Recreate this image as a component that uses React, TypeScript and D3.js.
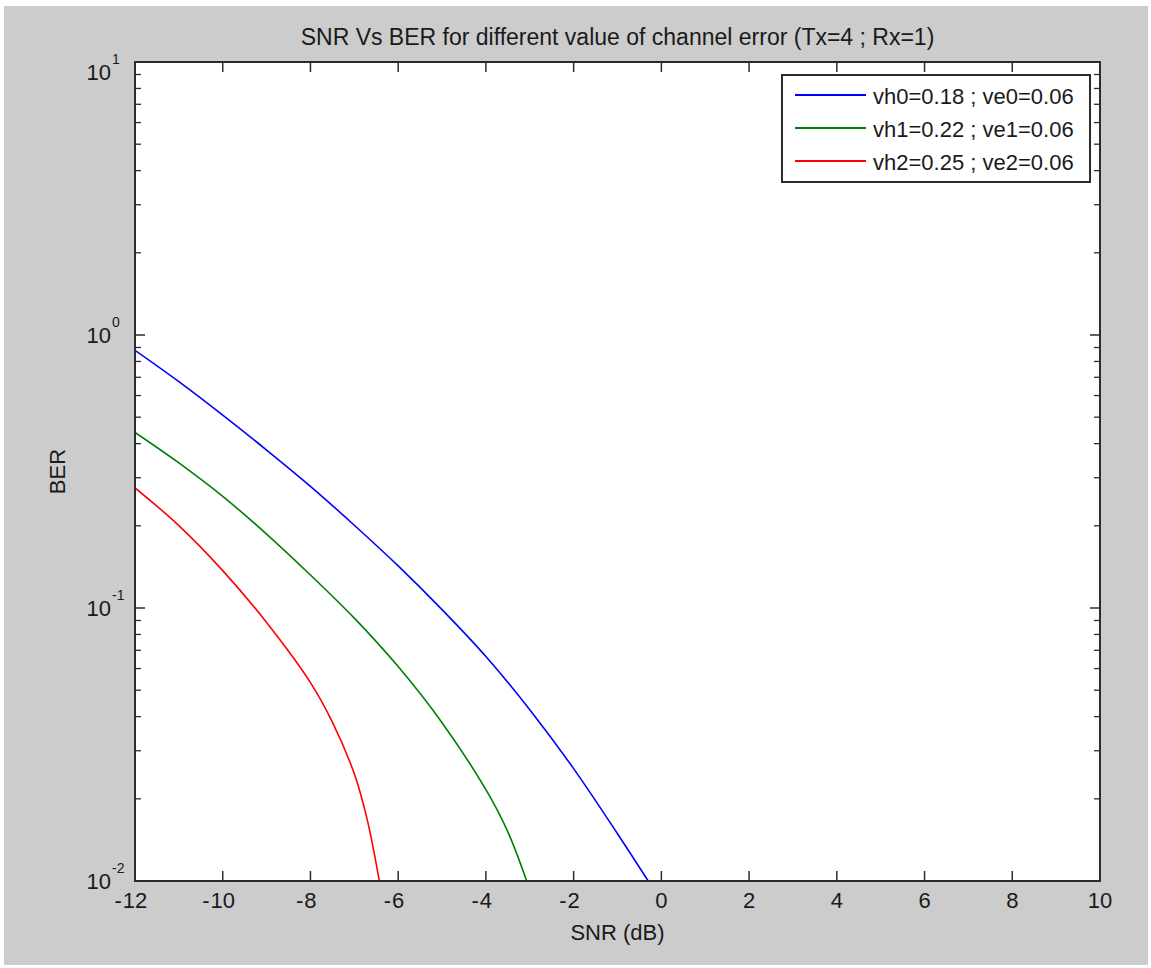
import React from "react";
import * as d3 from "d3";

const W = 1151;
const H = 968;

const title = "SNR Vs BER for different value of channel error (Tx=4 ; Rx=1)";
const xLabel = "SNR (dB)";
const yLabel = "BER";

const xTicks = [-12, -10, -8, -6, -4, -2, 0, 2, 4, 6, 8, 10];
const yDecades = [-2, -1, 0, 1];

const seriesNames = ["vh0=0.18 ; ve0=0.06", "vh1=0.22 ; ve1=0.06", "vh2=0.25 ; ve2=0.06"];
const seriesColors = ["#0000ff", "#008000", "#ff0000"];

const snrBlue = [-12, -11, -10, -9, -8, -7, -6, -5, -4, -3, -2, -1, -0.3];
const berBlue = [0.879, 0.675, 0.509, 0.379, 0.279, 0.201, 0.1426, 0.0986, 0.0664, 0.0424, 0.0258, 0.0149, 0.01];

const snrGreen = [-12, -11, -10, -9, -8, -7, -6, -5, -4, -3.5, -3.07];
const berGreen = [0.4395, 0.34, 0.2564, 0.1866, 0.1321, 0.0918, 0.061, 0.038, 0.0216, 0.01514, 0.01];

const snrRed = [-12, -11, -10, -9, -8, -7.5, -7, -6.75, -6.6, -6.43];
const berRed = [0.2754, 0.2004, 0.1371, 0.0885, 0.0533, 0.0382, 0.0247, 0.01795, 0.014, 0.01];

const seriesX = [snrBlue, snrGreen, snrRed];
const seriesY = [berBlue, berGreen, berRed];

const FONT = "'Liberation Sans', Arial, Helvetica, sans-serif";
const TXT = "#1a1a1a";
const AX = "#2b2b2b";

export default function App() {
  const left = 135, right = 1100, top = 62, bottom = 881;
  const x = d3.scaleLinear().domain([-12, 10]).range([left, right]);
  const y = d3.scaleLog().domain([0.01, 10]).range([bottom, top]);

  const line = d3
    .line<[number, number]>()
    .x((d) => x(d[0]))
    .y((d) => y(d[1]))
    .curve(d3.curveCatmullRom.alpha(0.5));

  const minorTicks: number[] = [];
  for (let e = -2; e < 1; e++) {
    for (let m = 2; m <= 9; m++) minorTicks.push(m * Math.pow(10, e));
  }

  const fs = 22;
  const digitW = 0.556 * fs;

  return (
    <div style={{ position: "absolute", left: 0, top: 0 }}>
      <svg width={W} height={H} style={{ display: "block" }}>
        <rect x={0} y={0} width={W} height={H} fill="#ffffff" />
        <rect x={4} y={6} width={1144} height={959} fill="#cccccc" />
        <defs>
          <clipPath id="plotclip">
            <rect x={left} y={top} width={right - left} height={bottom - top} />
          </clipPath>
        </defs>
        <rect x={left} y={top} width={right - left} height={bottom - top} fill="#ffffff" />

        {/* series */}
        <g clipPath="url(#plotclip)">
          {seriesX.map((xs, i) => (
            <path
              key={i}
              d={line(xs.map((v, j) => [v, seriesY[i][j]] as [number, number])) || ""}
              fill="none"
              stroke={seriesColors[i]}
              strokeWidth={1.6}
            />
          ))}
        </g>

        {/* x ticks */}
        {xTicks.map((t) => (
          <g key={"xt" + t}>
            <line x1={x(t)} x2={x(t)} y1={bottom} y2={bottom - 10} stroke={AX} strokeWidth={1.5} />
            <line x1={x(t)} x2={x(t)} y1={top} y2={top + 10} stroke={AX} strokeWidth={1.5} />
            <text
              x={x(t)}
              y={908}
              fontFamily={FONT}
              fontSize={fs}
              fill={TXT}
              textAnchor="middle"
            >
              {String(Math.abs(t))}
            </text>
            {t < 0 && (
              <text
                x={x(t) - (String(Math.abs(t)).length * digitW) / 2 - 1}
                y={908}
                fontFamily={FONT}
                fontSize={fs}
                fill={TXT}
                textAnchor="end"
              >
                -
              </text>
            )}
          </g>
        ))}

        {/* y major ticks */}
        {yDecades.map((e, i) => {
          const yy = y(Math.pow(10, e));
          const shift = i === yDecades.length - 1 ? 10 : 0;
          return (
            <g key={"yt" + e}>
              <line x1={left} x2={left + 10} y1={yy} y2={yy} stroke={AX} strokeWidth={1.5} />
              <line x1={right} x2={right - 10} y1={yy} y2={yy} stroke={AX} strokeWidth={1.5} />
              <text x={111} y={yy + 8 + shift} fontFamily={FONT} fontSize={fs} fill={TXT} textAnchor="end">
                10
              </text>
              <text x={112} y={yy - 8 + shift} fontFamily={FONT} fontSize={14} fill={TXT} textAnchor="start">
                {String(e)}
              </text>
            </g>
          );
        })}
        {/* y minor ticks */}
        {minorTicks.map((t, i) => (
          <g key={"ym" + i}>
            <line x1={left} x2={left + 6} y1={y(t)} y2={y(t)} stroke={AX} strokeWidth={1.3} />
            <line x1={right} x2={right - 6} y1={y(t)} y2={y(t)} stroke={AX} strokeWidth={1.3} />
          </g>
        ))}

        {/* axes box */}
        <rect
          x={left}
          y={top}
          width={right - left}
          height={bottom - top}
          fill="none"
          stroke={AX}
          strokeWidth={2}
        />

        {/* title & labels */}
        <text x={(left + right) / 2} y={45} fontFamily={FONT} fontSize={23} fill={TXT} textAnchor="middle">
          {title}
        </text>
        <text x={(left + right) / 2} y={940} fontFamily={FONT} fontSize={fs} fill={TXT} textAnchor="middle">
          {xLabel}
        </text>
        <text
          transform={`translate(65,${(top + bottom) / 2}) rotate(-90)`}
          fontFamily={FONT}
          fontSize={fs}
          fill={TXT}
          textAnchor="middle"
        >
          {yLabel}
        </text>

        {/* legend */}
        <rect x={782} y={75} width={308} height={107} fill="#ffffff" stroke={AX} strokeWidth={2} />
        {seriesNames.map((n, i) => {
          const cy = 95 + i * 33;
          return (
            <g key={"lg" + i}>
              <line x1={795} x2={866} y1={cy} y2={cy} stroke={seriesColors[i]} strokeWidth={2} />
              <text x={873} y={cy + 9} fontFamily={FONT} fontSize={fs} fill={TXT}>
                {n}
              </text>
            </g>
          );
        })}
      </svg>
    </div>
  );
}
